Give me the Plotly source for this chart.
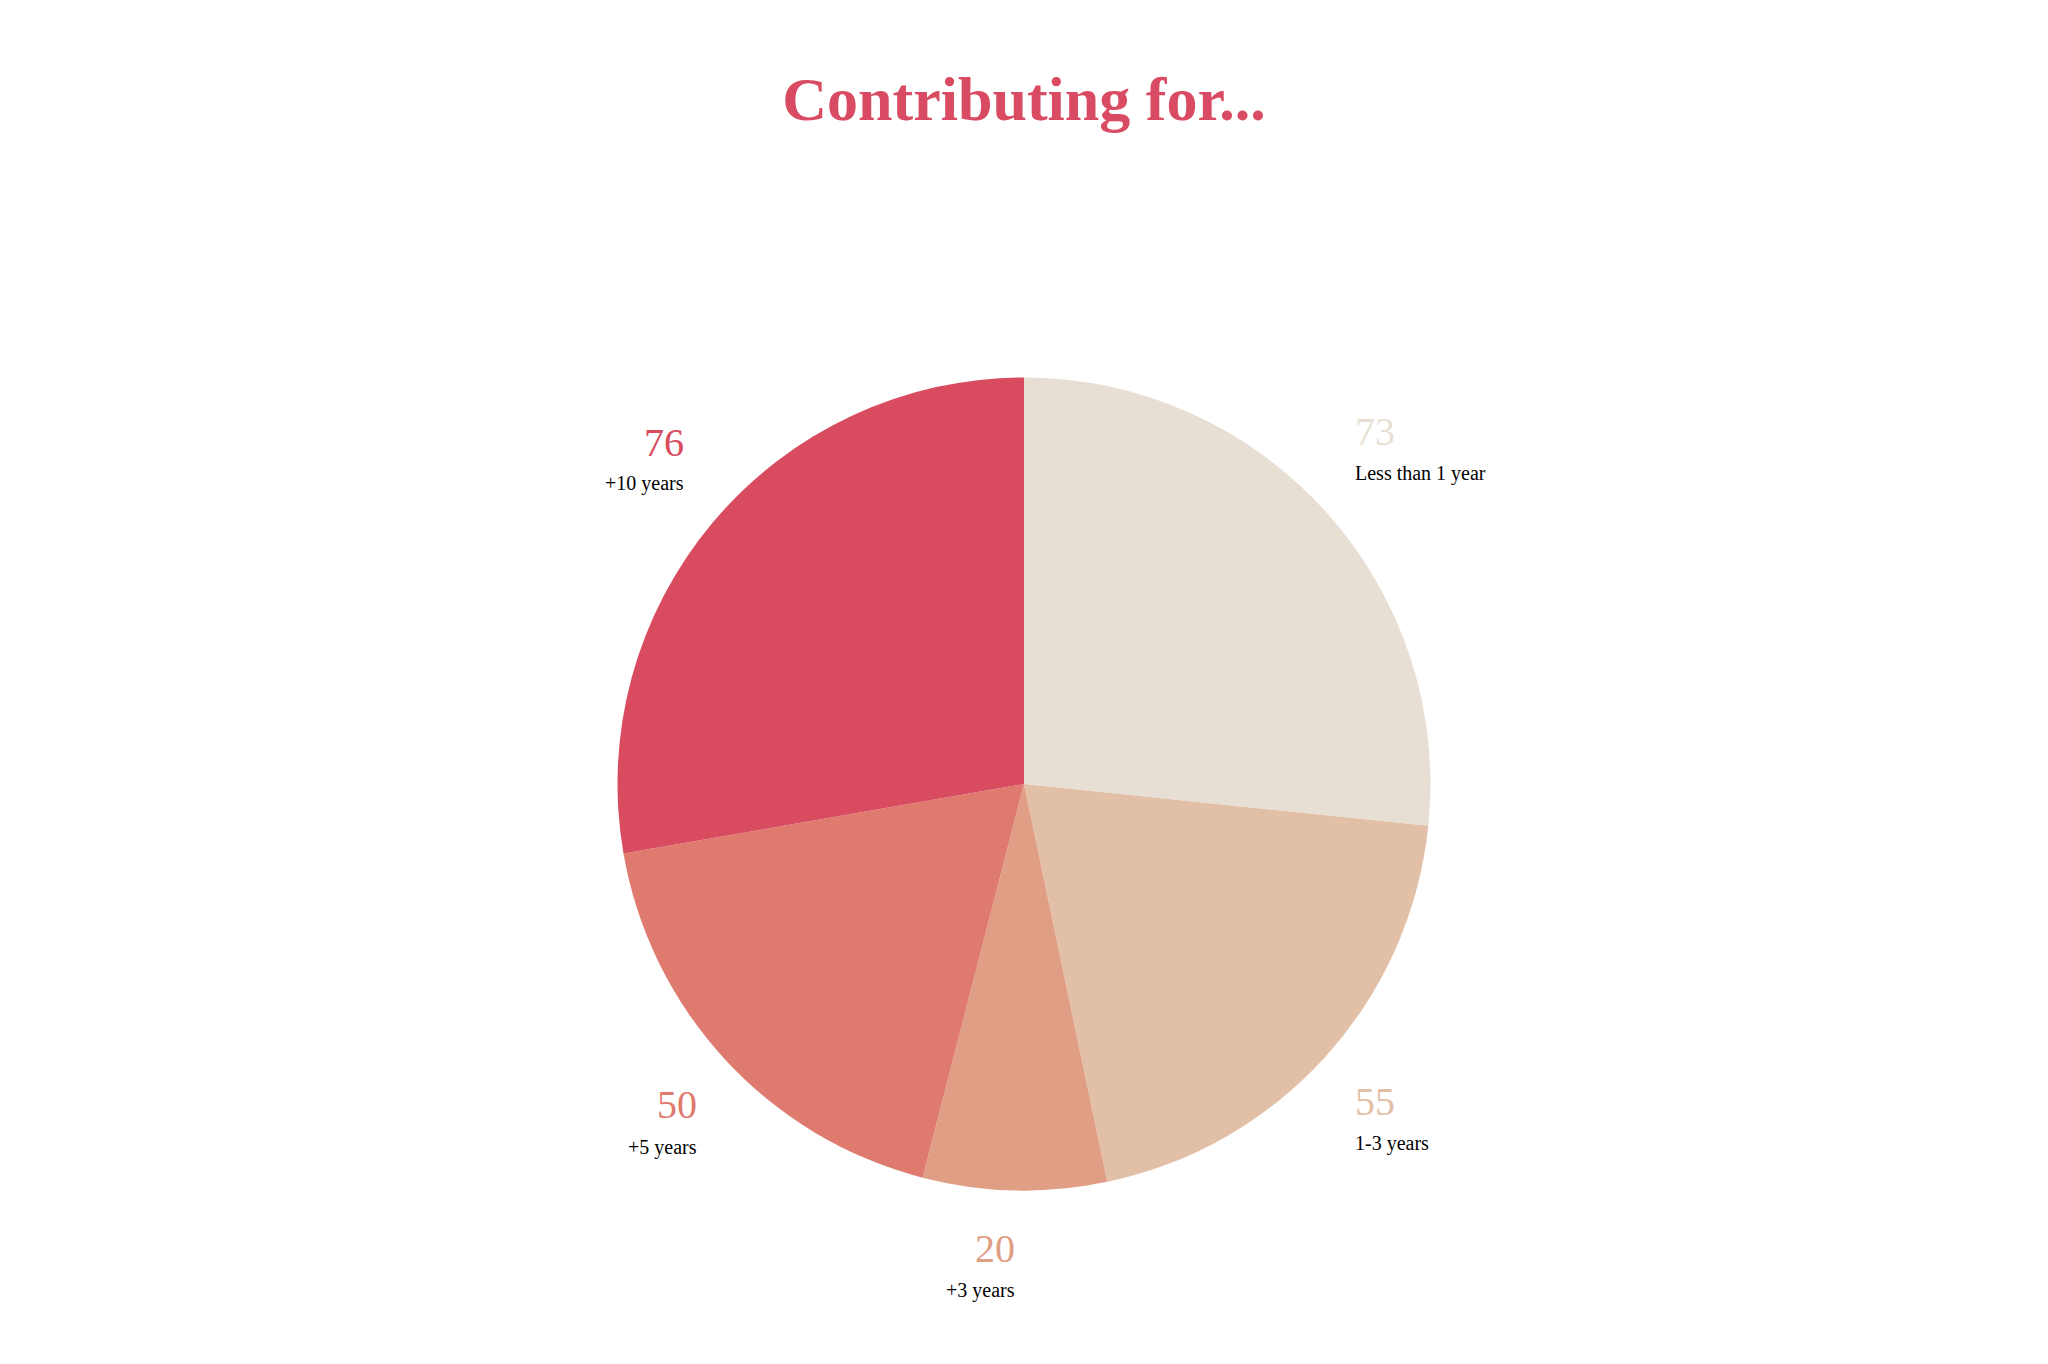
import plotly.graph_objects as go

# Data
categories = ["Less than 1 year", "1-3 years", "+3 years", "+5 years", "+10 years"]
values = [73, 55, 20, 50, 76]
colors = ["#e8dfd4", "#e2bfa7", "#e09e84", "#df7a6f", "#d94b5f"]

W, H = 2048, 1364
OFF = 8  # page body margin offset

# Label layout (page-pixel positions of number / category text, and alignment)
label_x = [1353, 1353, 1017, 699, 686]
num_y = [432, 1101, 1248, 1104, 443]
cat_y = [474, 1143, 1290, 1147, 483]
align = ["left", "left", "right", "right", "right"]

cx, cy, r = 1024 - OFF, 784 - OFF, 406.5

fig = go.Figure()
fig.add_trace(go.Pie(
    labels=categories,
    values=values,
    sort=False,
    direction="clockwise",
    rotation=0,
    marker=dict(colors=colors, line=dict(width=0)),
    textinfo="none",
    hoverinfo="label+value",
    showlegend=False,
    domain=dict(x=[(cx - r) / W, (cx + r) / W],
                y=[1 - (cy + r) / H, 1 - (cy - r) / H]),
))

annotations = []
for i, cat in enumerate(categories):
    annotations.append(dict(
        x=(label_x[i] - OFF) / W, y=1 - (num_y[i] - OFF) / H, xref="paper", yref="paper",
        text=str(values[i]), showarrow=False, xanchor=align[i], yanchor="middle",
        font=dict(family="Liberation Serif", size=40, color=colors[i]),
    ))
    annotations.append(dict(
        x=(label_x[i] - OFF) / W, y=1 - (cat_y[i] - OFF) / H, xref="paper", yref="paper",
        text=cat, showarrow=False, xanchor=align[i], yanchor="middle",
        font=dict(family="Liberation Serif", size=20, color="#000000"),
    ))

fig.update_layout(
    width=W, height=H,
    margin=dict(l=0, r=0, t=0, b=0),
    paper_bgcolor="white",
    plot_bgcolor="white",
    title=dict(text="<b>Contributing for...</b>", x=(1024 - OFF) / W, xanchor="center",
               y=1 - (98 - OFF) / H, yanchor="middle",
               font=dict(family="Liberation Serif", size=62, color="#d94b62")),
    annotations=annotations,
)

fig.write_html("out.html")
